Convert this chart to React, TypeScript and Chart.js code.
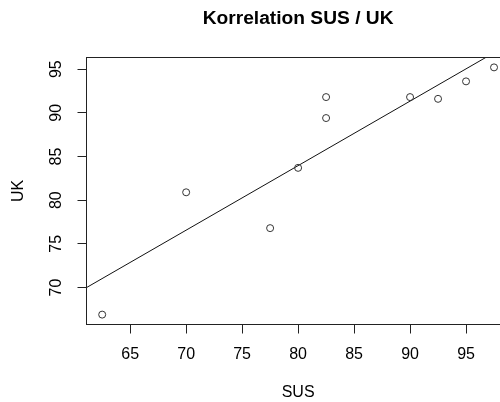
import { useEffect, useRef } from "react";
import { Chart, registerables } from "chart.js";

Chart.register(...registerables);

const SUS = [62.5, 70, 77.5, 80, 82.5, 82.5, 90, 92.5, 95, 97.5];
const UK = [66.9, 80.9, 76.8, 83.7, 91.8, 89.4, 91.8, 91.6, 93.6, 95.2];
const X_TICKS = [65, 70, 75, 80, 85, 90, 95];
const Y_TICKS = [70, 75, 80, 85, 90, 95];
const TITLE = "Korrelation SUS / UK";
const X_LABEL = "SUS";
const Y_LABEL = "UK";

const FONT = '"Liberation Sans", Arial, sans-serif';

function extRange(v: number[]) {
  const lo = Math.min(...v);
  const hi = Math.max(...v);
  const d = (hi - lo) * 0.04;
  return [lo - d, hi + d];
}

function fit(x: number[], y: number[]) {
  const n = x.length;
  const mx = x.reduce((a, b) => a + b, 0) / n;
  const my = y.reduce((a, b) => a + b, 0) / n;
  let sxy = 0;
  let sxx = 0;
  for (let i = 0; i < n; i++) {
    sxy += (x[i] - mx) * (y[i] - my);
    sxx += (x[i] - mx) * (x[i] - mx);
  }
  const b = sxy / sxx;
  return { a: my - b * mx, b };
}

export default function App() {
  const ref = useRef<HTMLCanvasElement | null>(null);

  useEffect(() => {
    if (!ref.current) return;
    const [xMin, xMax] = extRange(SUS);
    const [yMin, yMax] = extRange(UK);
    const { a, b } = fit(SUS, UK);

    const textPlugin = {
      id: "rtext",
      afterDraw(chart: any) {
        const { ctx, chartArea: ar, scales } = chart;
        ctx.save();
        ctx.fillStyle = "#000";
        ctx.textAlign = "center";
        ctx.textBaseline = "middle";
        const cx = (ar.left + ar.right) / 2;
        ctx.font = `bold 19.2px ${FONT}`;
        ctx.fillText(TITLE, cx, 19);
        ctx.font = `16px ${FONT}`;
        ctx.fillText(X_LABEL, cx, 393);
        const ys = scales.y;
        Y_TICKS.forEach((v) => {
          ctx.save();
          ctx.translate(57, ys.getPixelForValue(v));
          ctx.rotate(-Math.PI / 2);
          ctx.fillText(String(v), 0, 0);
          ctx.restore();
        });
        ctx.save();
        ctx.translate(19, (ar.top + ar.bottom) / 2);
        ctx.rotate(-Math.PI / 2);
        ctx.fillText(Y_LABEL, 0, 0);
        ctx.restore();
        ctx.strokeStyle = "#222";
        ctx.lineWidth = 1;
        ctx.strokeRect(ar.left, ar.top, ar.right - ar.left, ar.bottom - ar.top);
        ctx.restore();
      },
    };

    const chart = new Chart(ref.current, {
      type: "scatter",
      data: {
        datasets: [
          {
            label: "UK",
            data: SUS.map((x, i) => ({ x, y: UK[i] })),
            pointStyle: "circle",
            pointRadius: 3.5,
            pointBorderWidth: 1,
            pointBorderColor: "#333",
            pointBackgroundColor: "rgba(0,0,0,0)",
            showLine: false,
          },
          {
            label: "fit",
            data: [
              { x: xMin, y: a + b * xMin },
              { x: xMax, y: a + b * xMax },
            ],
            showLine: true,
            borderColor: "#111",
            borderWidth: 1,
            pointRadius: 0,
            clip: 0,
          } as any,
        ],
      },
      options: {
        responsive: false,
        animation: false,
        devicePixelRatio: 1,
        layout: { padding: { top: 57.5, left: 0, right: 10.3, bottom: 0 } },
        plugins: {
          legend: { display: false },
          tooltip: { enabled: false },
          title: { display: false },
        },
        scales: {
          x: {
            type: "linear",
            min: xMin,
            max: xMax,
            afterBuildTicks: (s: any) => {
              s.ticks = X_TICKS.map((v) => ({ value: v }));
            },
            afterFit: (s: any) => {
              s.height = 402 - 324.5;
            },
            grid: { drawOnChartArea: false, drawTicks: true, tickLength: 9, color: "#222" },
            border: { display: true, color: "#222" },
            ticks: {
              color: "#000",
              font: { family: FONT, size: 16 },
              padding: 11,
              maxRotation: 0,
              minRotation: 0,
            },
          },
          y: {
            type: "linear",
            min: yMin,
            max: yMax,
            afterBuildTicks: (s: any) => {
              s.ticks = Y_TICKS.map((v) => ({ value: v }));
            },
            afterFit: (s: any) => {
              s.width = 86.5;
            },
            grid: { drawOnChartArea: false, drawTicks: true, tickLength: 9, color: "#222" },
            border: { display: true, color: "#222" },
            ticks: { display: false },
          },
        },
      },
      plugins: [textPlugin],
    });
    return () => chart.destroy();
  }, []);

  return (
    <div
      style={{
        position: "fixed",
        left: 0,
        top: 0,
        width: 500,
        height: 402,
        overflow: "hidden",
        background: "#fff",
      }}
    >
      <canvas ref={ref} width={520} height={402} style={{ display: "block", width: 520, height: 402 }} />
    </div>
  );
}
